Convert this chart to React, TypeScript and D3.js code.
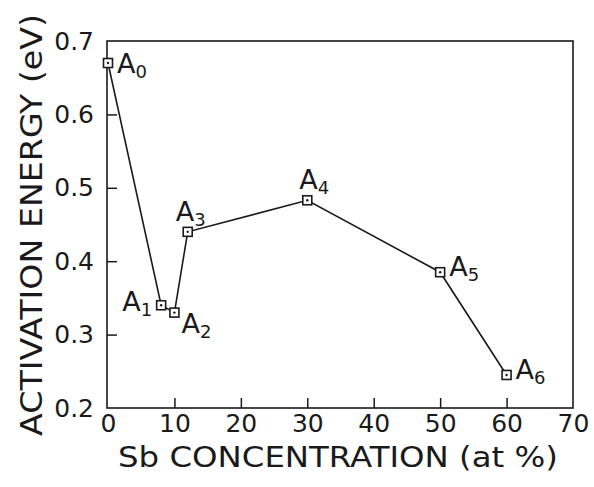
import { useEffect, useRef } from 'react'
import * as d3 from 'd3'

// Sb concentration (at %) and activation energy (eV)
const concentration = [0, 8, 10, 12, 30, 50, 60]
const energy = [0.67, 0.34, 0.33, 0.44, 0.483, 0.385, 0.245]
const pointSubscripts = ['0', '1', '2', '3', '4', '5', '6']
// where each label sits relative to its point
const labelPlacement = ['right', 'left', 'belowRight', 'aboveLeft', 'above', 'rightHigh', 'rightHigh']

const xTicks = [0, 10, 20, 30, 40, 50, 60, 70]
const yTicks = [0.2, 0.3, 0.4, 0.5, 0.6, 0.7]

const INK = '#1a1a1a'
const FONT = '"DejaVu Sans", "Liberation Sans", sans-serif'

export default function App() {
  const ref = useRef<SVGSVGElement>(null)

  useEffect(() => {
    const el = ref.current
    if (!el) return
    const svg = d3.select(el)
    svg.selectAll('*').remove()

    const frame = { left: 107, right: 573, top: 41, bottom: 408 }
    const x = d3.scaleLinear().domain([0, 70]).range([frame.left + 1, frame.right])
    const y = d3.scaleLinear().domain([0.2, 0.7]).range([frame.bottom, frame.top])

    svg
      .append('rect')
      .attr('x', frame.left)
      .attr('y', frame.top)
      .attr('width', frame.right - frame.left)
      .attr('height', frame.bottom - frame.top)
      .attr('fill', 'none')
      .attr('stroke', INK)
      .attr('stroke-width', 1.6)

    // inward ticks on the bottom and left
    svg
      .append('g')
      .attr('transform', `translate(0,${frame.bottom})`)
      .call(d3.axisBottom(x).tickValues(xTicks).tickSize(-10).tickPadding(16).tickFormat(d3.format('d')))
      .call((s) => s.select('.domain').remove())
      .call((s) => s.selectAll('line').attr('stroke', INK).attr('stroke-width', 1.5))
      .call((s) => s.selectAll('.tick').filter((d) => d === 0 || d === 70).select('line').remove())
      .call((s) =>
        s
          .selectAll('text')
          .attr('fill', INK)
          .attr('font-family', FONT)
          .style('font-size', '25px')
          .attr('dy', '0.3em')
      )

    svg
      .append('g')
      .attr('transform', `translate(${frame.left},0)`)
      .call(d3.axisLeft(y).tickValues(yTicks).tickSize(-10).tickPadding(13).tickFormat(d3.format('.1f')))
      .call((s) => s.select('.domain').remove())
      .call((s) => s.selectAll('line').attr('stroke', INK).attr('stroke-width', 1.5))
      .call((s) => s.selectAll('.tick').filter((d) => d === 0.2 || d === 0.7).select('line').remove())
      .call((s) =>
        s.selectAll('text').attr('fill', INK).attr('font-family', FONT).style('font-size', '25px')
      )

    const pts = concentration.map((c, i) => ({ c, e: energy[i], sub: pointSubscripts[i], place: labelPlacement[i] }))

    svg
      .append('path')
      .datum(pts)
      .attr('fill', 'none')
      .attr('stroke', INK)
      .attr('stroke-width', 1.6)
      .attr(
        'd',
        d3
          .line<(typeof pts)[number]>()
          .x((d) => x(d.c))
          .y((d) => y(d.e))
      )

    const marks = svg
      .append('g')
      .selectAll('g')
      .data(pts)
      .join('g')
      .attr('transform', (d) => `translate(${x(d.c)},${y(d.e)})`)
    marks
      .append('rect')
      .attr('x', -4.5)
      .attr('y', -4.5)
      .attr('width', 9)
      .attr('height', 9)
      .attr('fill', 'white')
      .attr('stroke', INK)
      .attr('stroke-width', 1.6)
    marks.append('circle').attr('r', 1.2).attr('fill', INK)

    const offset: Record<string, [number, number, string]> = {
      right: [9, 10, 'start'],
      rightHigh: [9, 4, 'start'],
      left: [-9, 6, 'end'],
      belowRight: [7, 20, 'start'],
      aboveLeft: [-12, -11, 'start'],
      above: [-8, -11, 'start'],
    }

    const label = marks
      .append('text')
      .attr('x', (d) => offset[d.place][0])
      .attr('y', (d) => offset[d.place][1])
      .attr('text-anchor', (d) => offset[d.place][2])
      .attr('font-family', FONT)
      .attr('fill', INK)
      .style('font-size', '27px')
    label.append('tspan').text('A')
    label
      .append('tspan')
      .attr('dy', 5)
      .style('font-size', '18px')
      .text((d) => d.sub)

    svg
      .append('text')
      .attr('x', 338)
      .attr('y', 467)
      .attr('text-anchor', 'middle')
      .attr('font-family', FONT)
      .attr('fill', INK)
      .attr('textLength', 440)
      .attr('lengthAdjust', 'spacingAndGlyphs')
      .style('font-size', '29px')
      .text('Sb CONCENTRATION (at %)')

    svg
      .append('text')
      .attr('transform', `translate(42,225) rotate(-90)`)
      .attr('text-anchor', 'middle')
      .attr('font-family', FONT)
      .attr('fill', INK)
      .attr('textLength', 422)
      .attr('lengthAdjust', 'spacingAndGlyphs')
      .style('font-size', '31px')
      .text('ACTIVATION ENERGY (eV)')
  }, [])

  return (
    <svg
      ref={ref}
      width={594}
      height={487}
      style={{ position: 'absolute', left: 0, top: 0, background: 'white' }}
    />
  )
}
